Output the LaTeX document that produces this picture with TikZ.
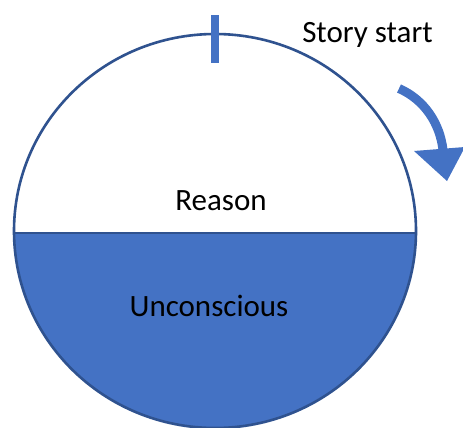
\documentclass[tikz,border=0pt]{standalone}
\usepackage{fontspec}
\setmainfont{Carlito}
\definecolor{officeblue}{HTML}{4472C4}
\definecolor{rimblue}{HTML}{2F528F}
\begin{document}
\begin{tikzpicture}[x=1pt,y=-1pt,
  label text/.style={font=\fontsize{31}{37}\selectfont, text=black, inner sep=0pt, anchor=base},
  rim/.style={draw=rimblue, line width=2.6pt}]
  % page frame
  \useasboundingbox (0,0) rectangle (463,428);
  \fill[white] (0,0) rectangle (463,428);

  % lower half: the unconscious
  \begin{scope}
    \clip (215,231) ellipse [x radius=201, y radius=197];
    \fill[officeblue] (0,233) rectangle (463,440);
  \end{scope}

  % outline of the circle and the horizon line
  \draw[rim] (215,231) ellipse [x radius=201, y radius=197];
  \coordinate (hl) at (14,233);
  \coordinate (hr) at (416,233);
  \draw[rim] (hl) -- (hr);

  % start marker at the top
  \fill[officeblue] (211,15) rectangle (219,63);

  % direction of travel
  \coordinate (arrS) at (399,88.5);
  \coordinate (arrE) at (443,150);
  \draw[officeblue, line width=9pt] (arrS) .. controls (425,100) and (440,124) .. (arrE);
  \fill[officeblue] (414,151) -- (465,147) -- (447,181) -- cycle;

  % texts
  \node[label text] (story) at (367.5,43) {Story start};
  \node[label text] (reason) at (221,210) {Reason};
  \node[label text] (uncon) at (209,316) {Unconscious};
\end{tikzpicture}
\end{document}
